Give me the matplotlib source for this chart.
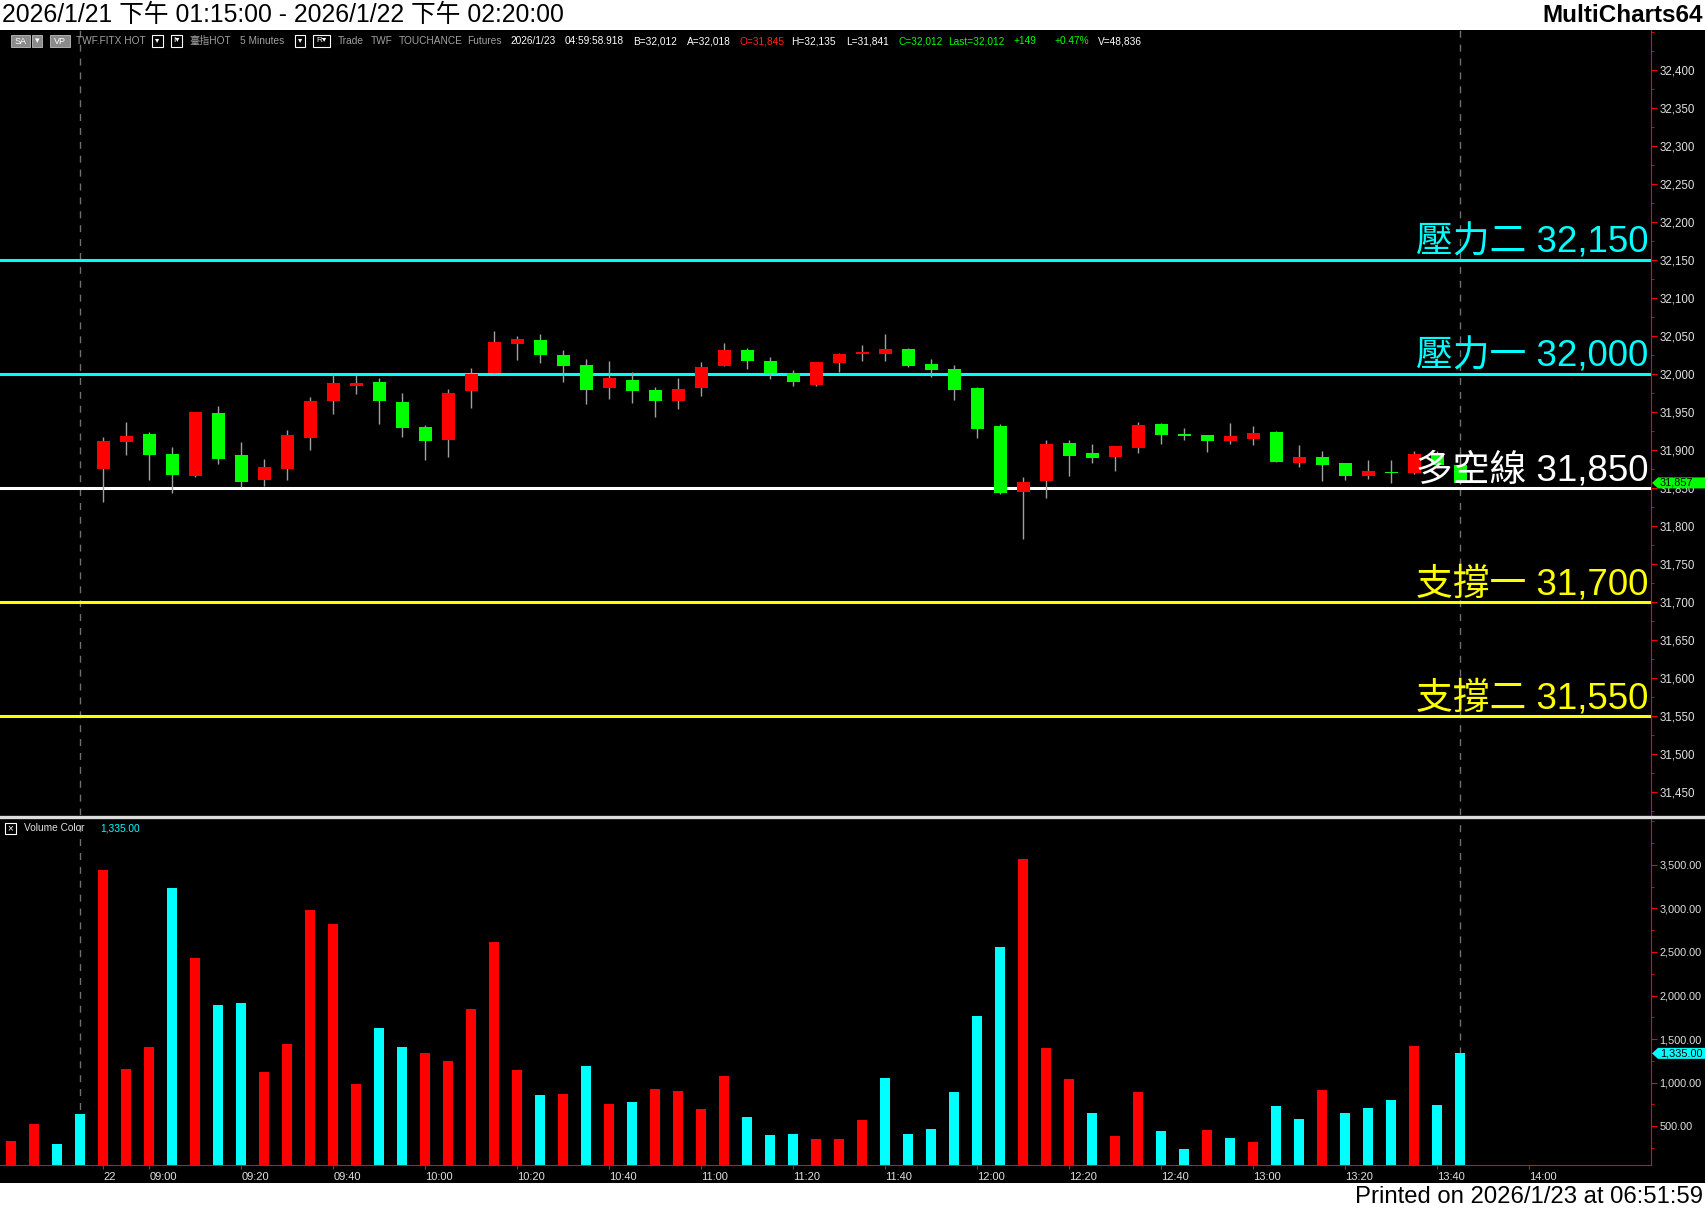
import matplotlib
matplotlib.use("Agg")
import matplotlib.pyplot as plt
import matplotlib.transforms as mtransforms
from matplotlib.patches import Rectangle, Polygon
from matplotlib.ticker import FuncFormatter, MultipleLocator, FixedLocator
import numpy as np
import pandas as pd

plt.rcParams['font.family'] = ['Liberation Sans', 'Noto Sans CJK TC', 'DejaVu Sans']

# ---- data ----
night_times = ["04:45", "04:50", "04:55", "05:00"]
day_times = [t.strftime("%H:%M") for t in pd.date_range("2026-01-22 08:50", "2026-01-22 14:00", freq="5min")]
slots = night_times + day_times

vol_times = slots[:64]
volumes = [328, 523, 293, 638, 3443, 1155, 1408, 3236, 2431, 1891,
           1914, 1121, 1443, 2983, 2822, 983, 1626, 1408, 1339, 1247,
           1845, 2615, 1144, 856, 868, 1190, 753, 776, 925, 902,
           695, 1075, 603, 397, 408, 351, 351, 569, 1052, 408,
           466, 891, 1764, 2557, 3569, 1397, 1040, 649, 385, 891,
           443, 236, 454, 362, 316, 730, 580, 914, 649, 707,
           799, 1420, 741, 1335]
vol_up = "RRCCRRRCRCCRRRRRCCRRRRRCRCRCRRRRCCCRRRCCCCCCRRRCRRCCRCRCCRCCCRCC"

candle_times = slots[4:64]
opens = [31875, 31911, 31921, 31895, 31866, 31949, 31894, 31861, 31875, 31916,
         31965, 31985, 31990, 31964, 31931, 31914, 31978, 32002, 32040, 32045,
         32025, 32012, 31982, 31992, 31979, 31965, 31982, 32011, 32032, 32017,
         32001, 31986, 32015, 32027, 32027, 32033, 32014, 32007, 31982, 31932,
         31845, 31860, 31910, 31896, 31891, 31903, 31935, 31921, 31920, 31912,
         31915, 31924, 31883, 31891, 31883, 31866, 31872, 31870, 31894, 31881]
highs = [31918, 31937, 31924, 31904, 31950, 31958, 31911, 31889, 31927, 31970,
         32000, 31999, 31995, 31975, 31933, 31981, 32008, 32057, 32050, 32053,
         32032, 32020, 32017, 32003, 31983, 31995, 32016, 32041, 32035, 32023,
         32006, 32016, 32028, 32039, 32053, 32035, 32020, 32012, 31983, 31935,
         31865, 31914, 31913, 31908, 31906, 31937, 31936, 31929, 31920, 31936,
         31932, 31925, 31907, 31899, 31883, 31887, 31887, 31899, 31899, 31894]
lows = [31832, 31894, 31861, 31844, 31865, 31882, 31852, 31853, 31861, 31900,
        31948, 31974, 31935, 31918, 31887, 31891, 31956, 32000, 32019, 32015,
        31990, 31961, 31967, 31962, 31944, 31954, 31971, 32011, 32007, 31994,
        31985, 31985, 32003, 32017, 32017, 32010, 31996, 31966, 31916, 31842,
        31783, 31837, 31866, 31883, 31873, 31896, 31908, 31914, 31898, 31908,
        31907, 31885, 31878, 31860, 31861, 31862, 31857, 31869, 31878, 31855]
closes = [31912, 31919, 31894, 31868, 31950, 31889, 31858, 31878, 31920, 31965,
          31989, 31989, 31965, 31929, 31912, 31975, 32000, 32042, 32046, 32025,
          32011, 31979, 31995, 31978, 31965, 31981, 32010, 32032, 32018, 32001,
          31990, 32016, 32027, 32029, 32033, 32011, 32006, 31979, 31928, 31844,
          31858, 31908, 31893, 31890, 31906, 31933, 31920, 31919, 31912, 31919,
          31923, 31885, 31891, 31881, 31866, 31873, 31870, 31895, 31881, 31857]

levels = [32150, 32000, 31850, 31700, 31550]
level_names = ["壓力二", "壓力一", "多空線", "支撐一", "支撐二"]
level_colors = ["#00ffff", "#00ffff", "#ffffff", "#ffff00", "#ffff00"]

tick_times = ["08:50", "09:00", "09:20", "09:40", "10:00", "10:20", "10:40", "11:00",
              "11:20", "11:40", "12:00", "12:20", "12:40", "13:00", "13:20", "13:40", "14:00"]
tick_labels = ["22"] + tick_times[1:]
session_marks = ["05:00", "13:45"]

# ---- figure ----
W, H = 1705, 1211
fig = plt.figure(figsize=(W / 100, H / 100), dpi=100, facecolor="black")


def fy(py):
    return 1 - py / H


ax_p = fig.add_axes([0, fy(815), 1651 / W, (815 - 30) / H], facecolor="black")
ax_v = fig.add_axes([0, fy(1165), 1651 / W, (1165 - 818) / H], facecolor="black")

xlim = (-0.487, 71.3)
grid_col = "#707070"
lab_col = "#e0e0e0"

# candles
cx = np.array([slots.index(t) for t in candle_times])
o = np.array(opens)
c = np.array(closes)
body_col = np.where(c > o, "#ff0000", "#00ff00")
ax_p.vlines(cx, lows, highs, color="#a0a0a0", lw=1, zorder=2)
ax_p.bar(cx, np.maximum(np.abs(c - o), 1.6), bottom=np.minimum(o, c), width=0.565,
         color=body_col, zorder=3)

# levels
blend = mtransforms.blended_transform_factory(ax_p.transAxes, ax_p.transData)
for lv, nm, col in zip(levels, level_names, level_colors):
    ax_p.axhline(lv, color=col, lw=2.2, zorder=1)
    ax_p.text(1648 / 1651, lv + 10.5, f"{nm} {lv:,}", transform=blend, ha="right",
              va="baseline", color=col, fontsize=26.5, fontweight="light", zorder=6)

for t in session_marks:
    for ax in (ax_p, ax_v):
        ax.axvline(slots.index(t), color=grid_col, lw=1, ls=(0, (5, 5)), zorder=0)

ax_p.set_xlim(*xlim)
ax_p.set_ylim(31420, 32453)
ax_p.yaxis.tick_right()
ax_p.yaxis.set_major_locator(FixedLocator(np.arange(31450, 32401, 50)))
ax_p.yaxis.set_minor_locator(MultipleLocator(25))
ax_p.yaxis.set_major_formatter(FuncFormatter(lambda v, p: f"{v:,.0f}"))
ax_p.tick_params(axis="y", which="major", color="red", labelcolor=lab_col, length=4,
                 pad=2, labelsize=8.3)
ax_p.tick_params(axis="y", which="minor", color="red", length=2)
ax_p.set_xticks([])
for s in ["top", "left", "bottom"]:
    ax_p.spines[s].set_visible(False)
ax_p.spines["right"].set_color("red")

# volume
vx = np.array([slots.index(t) for t in vol_times])
vcol = ["#ff0000" if f == "R" else "#00ffff" for f in vol_up]
ax_v.bar(vx, volumes, width=0.46, color=vcol, zorder=2)
ax_v.set_xlim(*xlim)
ax_v.set_ylim(52, 4040)
ax_v.yaxis.tick_right()
ax_v.yaxis.set_major_locator(FixedLocator(np.arange(500, 3501, 500)))
ax_v.yaxis.set_minor_locator(MultipleLocator(250))
ax_v.yaxis.set_major_formatter(FuncFormatter(lambda v, p: f"{v:,.2f}"))
ax_v.tick_params(axis="y", which="major", color="red", labelcolor=lab_col, length=4,
                 pad=2, labelsize=7.8)
ax_v.tick_params(axis="y", which="minor", color="red", length=2)
ax_v.set_xticks([slots.index(t) for t in tick_times])
ax_v.set_xticklabels(tick_labels)
ax_v.tick_params(axis="x", color="red", labelcolor=lab_col, length=3, pad=2, labelsize=8)
for lbl in ax_v.get_xticklabels():
    lbl.set_horizontalalignment("left")
for s in ["top", "left"]:
    ax_v.spines[s].set_visible(False)
ax_v.spines["right"].set_color("red")
ax_v.spines["bottom"].set_color("red")

ax_v.text(24 / 1651, 0.97, "Volume Color", transform=ax_v.transAxes, color=lab_col,
          fontsize=7.3, va="center")
ax_v.text(100 / 1651, 0.97, f"{volumes[-1]:,.2f}", transform=ax_v.transAxes,
          color="#00ffff", fontsize=7.3, va="center")
fig.patches.append(Rectangle((5 / W, fy(834)), 11 / W, 11 / H, transform=fig.transFigure,
                             fc="black", ec="white", lw=0.8))
fig.text(10.5 / W, fy(828.5), "×", color="white", fontsize=7, ha="center", va="center")

# separator
fig.add_artist(plt.Line2D([0, 1], [fy(816.5), fy(816.5)], color="#dcdcdc", lw=2.4,
                          transform=fig.transFigure))


# last value tags
def tag(ax, value, text, color):
    yd = ax.transData.transform((0, value))[1]
    yf = fig.transFigure.inverted().transform((0, yd))[1]
    h = 5.5 / H
    pts = [(1652 / W, yf), (1658 / W, yf + h), (1.0, yf + h), (1.0, yf - h), (1658 / W, yf - h)]
    fig.patches.append(Polygon(pts, closed=True, transform=fig.transFigure, fc=color,
                               ec="none", zorder=5))
    fig.text(1660 / W, yf, text, fontsize=7.8, color="black", va="center", zorder=6)


tag(ax_p, closes[-1], f"{closes[-1]:,}", "#00ff00")
tag(ax_v, volumes[-1], f"{volumes[-1]:,.2f}", "#00ffff")

# white header / footer bands
fig.patches.append(Rectangle((0, fy(30)), 1, 30 / H, transform=fig.transFigure, fc="white",
                             ec="none", zorder=4))
fig.patches.append(Rectangle((0, 0), 1, 28 / H, transform=fig.transFigure, fc="white",
                             ec="none", zorder=4))
fig.text(2 / W, fy(15), "2026/1/21 下午 01:15:00 - 2026/1/22 下午 02:20:00", fontsize=17.8,
         color="black", va="center", zorder=6)
fig.text(1703 / W, fy(15), "MultiCharts64", fontsize=17.5, fontweight="bold", color="black",
         ha="right", va="center", zorder=6)
fig.text(1703 / W, fy(1197), "Printed on 2026/1/23 at 06:51:59", fontsize=17.2, color="black",
         ha="right", va="center", zorder=6)

# info row
iy = fy(41)
for x0, x1, txt in [(11, 30, "SA"), (32, 42, "▾"), (50, 70, "VP")]:
    fig.patches.append(Rectangle((x0 / W, fy(47)), (x1 - x0) / W, 12 / H,
                                 transform=fig.transFigure, fc="#8a8a8a", ec="#c0c0c0", lw=0.6))
    fig.text((x0 + x1) / 2 / W, iy, txt, fontsize=6.5, color="white", ha="center", va="center")
for x0, x1, txt in [(152, 163, "▾"), (171, 182, "I▾"), (295, 305, "▾"), (313, 330, "R▾")]:
    fig.patches.append(Rectangle((x0 / W, fy(47)), (x1 - x0) / W, 12 / H,
                                 transform=fig.transFigure, fc="black", ec="white", lw=0.8))
    fig.text((x0 + x1) / 2 / W, iy, txt, fontsize=6, color="white", ha="center", va="center")

info = [(76, "TWF.FITX HOT", "#a0a0a0"), (189, "臺指HOT", "#a0a0a0"), (240, "5 Minutes", "#a0a0a0"),
        (338, "Trade", "#a0a0a0"), (371, "TWF", "#a0a0a0"), (399, "TOUCHANCE", "#a0a0a0"),
        (467, "Futures", "#a0a0a0"), (510, "2026/1/23", "white"), (565, "04:59:58.918", "white"),
        (633, "B=32,012", "white"), (687, "A=32,018", "white"), (740, "O=31,845", "#ff2020"),
        (791, "H=32,135", "white"), (846, "L=31,841", "white"), (898, "C=32,012", "#00ff00"),
        (948, "Last=32,012", "#00ff00"), (1013, "+149", "#00ff00"), (1054, "+0.47%", "#00ff00"),
        (1098, "V=48,836", "white")]
for x, txt, col in info:
    fig.text(x / W, iy, txt, fontsize=7.3, color=col, va="center")

fig.savefig("out.png", dpi=100, facecolor="black")
